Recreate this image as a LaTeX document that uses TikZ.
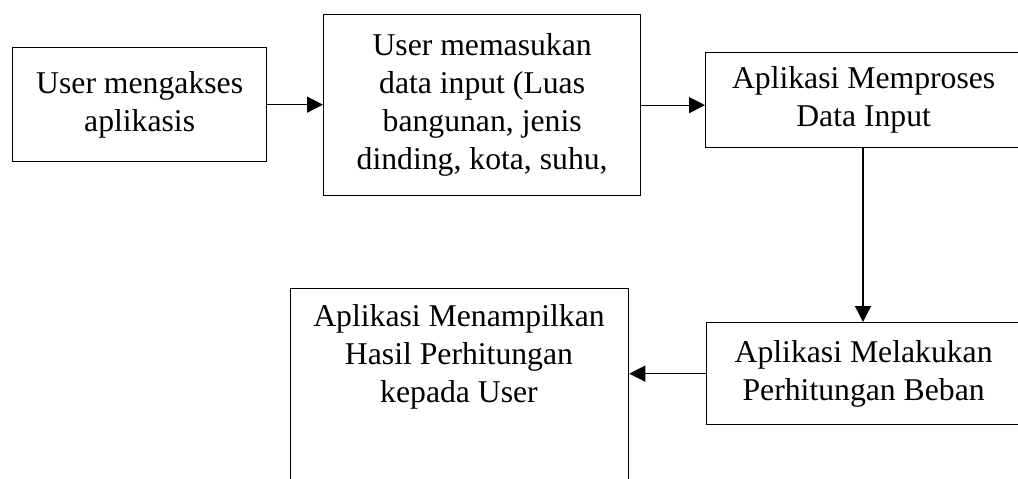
\documentclass[tikz,border=0pt]{standalone}
\usepackage{fontspec}
\setmainfont{Liberation Serif}
\usetikzlibrary{arrows.meta}
\begin{document}
\begin{tikzpicture}[x=1pt,y=-1pt,
  box/.style={draw, line width=1.3pt, rectangle, inner sep=0pt, align=center,
    font=\fontsize{31.7}{38}\selectfont, anchor=north west},
  txt/.style={inner sep=0pt, align=center, font=\fontsize{31.7}{38}\selectfont},
  conn/.style={line width=1.3pt, -{Triangle[length=16pt,width=16pt]}}]
\useasboundingbox (0,0) rectangle (1018,479);
\clip (0,0) rectangle (1018,479);
\node[box, minimum width=254pt, minimum height=114pt] (b1) at (12,47) {User mengakses\\aplikasis};
\node[box, minimum width=317pt, minimum height=181pt] (b2) at (323,14) {User memasukan\\data input (Luas\\bangunan, jenis\\dinding, kota, suhu,};
\node[box, minimum width=316pt, minimum height=95pt] (b3) at (705,52) {Aplikasi Memproses\\Data Input};
\node[box, minimum width=314pt, minimum height=102pt] (b4) at (706,322) {Aplikasi Melakukan\\Perhitungan Beban};
\node[box, minimum width=338pt, minimum height=220pt] (b5) at (290,288) {};
\node[txt] (t5) at (459,357) {Aplikasi Menampilkan\\Hasil Perhitungan\\kepada User};
\draw[conn] (b1.east) -- (b2.west |- b1.east);
\draw[conn] (b2.east) -- (b3.west |- b2.east);
\draw[conn] (b3.south -| 863,0) -- (b4.north -| 863,0);
\draw[conn] (b4.west) -- (b5.east |- b4.west);
\end{tikzpicture}
\end{document}
